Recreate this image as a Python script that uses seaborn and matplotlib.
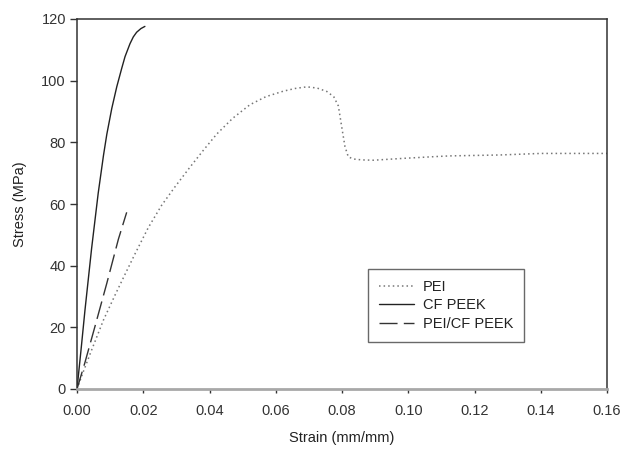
import matplotlib
matplotlib.use("Agg")
import matplotlib.pyplot as plt
import seaborn as sns
import pandas as pd

# Tensile test curves: strain (mm/mm) vs stress (MPa)
pei_strain = [0.0, 0.0019, 0.0044, 0.0080, 0.0115, 0.0145, 0.0175, 0.0215, 0.0255,
              0.0296, 0.0340, 0.0382, 0.0422, 0.0470, 0.0522, 0.0570, 0.0623, 0.0660,
              0.0694, 0.0725, 0.0754, 0.0775, 0.0789, 0.0799, 0.0809, 0.0819, 0.0834,
              0.0860, 0.0895, 0.0940, 0.0985, 0.1086, 0.1126, 0.1277, 0.1400, 0.1600]
pei_stress = [0.0, 5.6, 12.6, 22.4, 30.5, 37.2, 43.8, 52.3, 59.5,
              65.6, 71.8, 77.5, 82.7, 87.8, 92.2, 94.8, 96.6, 97.5,
              98.0, 97.6, 96.5, 94.8, 91.8, 85.1, 78.6, 75.3, 74.6,
              74.3, 74.2, 74.5, 74.8, 75.4, 75.6, 75.9, 76.4, 76.4]

cf_strain = [0.0, 0.0012, 0.0024, 0.0044, 0.0064, 0.0080, 0.0090, 0.0105, 0.0120,
             0.0135, 0.0145, 0.0160, 0.0170, 0.0180, 0.0193, 0.0205]
cf_stress = [0.0, 12.5, 25.5, 45.5, 63.5, 75.8, 82.6, 91.0, 98.0,
             104.0, 107.8, 112.0, 114.2, 115.7, 116.9, 117.6]

blend_strain = [0.0, 0.0024, 0.0054, 0.0090, 0.0125, 0.0150]
blend_stress = [0.0, 8.6, 20.2, 34.3, 48.6, 57.3]

series_names = ["PEI", "CF PEEK", "PEI/CF PEEK"]
x_ticks = [0.00, 0.02, 0.04, 0.06, 0.08, 0.10, 0.12, 0.14, 0.16]
y_ticks = [0, 20, 40, 60, 80, 100, 120]

sns.set_style("ticks")
plt.rcParams["font.family"] = ["Liberation Sans", "DejaVu Sans"]

fig = plt.figure(figsize=(6.22, 4.5), dpi=100)
ax = fig.add_axes([77 / 622, 61 / 450, 530 / 622, 370 / 450])

frames = [
    pd.DataFrame({"strain": pei_strain, "stress": pei_stress, "material": series_names[0]}),
    pd.DataFrame({"strain": cf_strain, "stress": cf_stress, "material": series_names[1]}),
    pd.DataFrame({"strain": blend_strain, "stress": blend_stress, "material": series_names[2]}),
]
styles = {
    "PEI": dict(color="#767676", linestyle=(0, (1, 2)), linewidth=1.1),
    "CF PEEK": dict(color="#222222", linestyle="-", linewidth=1.0),
    "PEI/CF PEEK": dict(color="#333333", linestyle=(0, (13, 4.5)), linewidth=1.0),
}
for df in frames:
    name = df["material"].iloc[0]
    sns.lineplot(data=df, x="strain", y="stress", ax=ax, sort=False,
                 estimator=None, label=name, **styles[name])

ax.set_xlim(0, 0.16)
ax.set_ylim(0, 120)
ax.set_xticks(x_ticks)
ax.set_xticklabels([f"{v:.2f}" for v in x_ticks])
ax.set_yticks(y_ticks)

ax.set_xlabel("Strain (mm/mm)", fontsize=10.5, color="#222222", labelpad=9)
ax.set_ylabel("Stress (MPa)", fontsize=10.5, color="#222222", labelpad=10)

ax.tick_params(axis="x", direction="out", length=3, width=1, pad=8,
               labelsize=10.5, colors="#333333")
ax.tick_params(axis="y", direction="out", length=5, width=1, pad=3,
               labelsize=10.5, colors="#333333")

for side in ["top", "right", "left"]:
    ax.spines[side].set_visible(True)
    ax.spines[side].set_color("#333333")
    ax.spines[side].set_linewidth(1.1)
ax.spines["bottom"].set_color("#a8a8a8")
ax.spines["bottom"].set_linewidth(2.0)

leg = ax.legend(loc="upper left", bbox_to_anchor=(0.549, 0.324), borderaxespad=0,
                frameon=True, fancybox=False, fontsize=10.5, handlelength=2.4,
                handletextpad=0.6, labelspacing=0.3, borderpad=0.75)
leg.get_frame().set_edgecolor("#444444")
leg.get_frame().set_linewidth(1.0)
for t in leg.get_texts():
    t.set_color("#222222")

fig.savefig("out.png", dpi=100)
